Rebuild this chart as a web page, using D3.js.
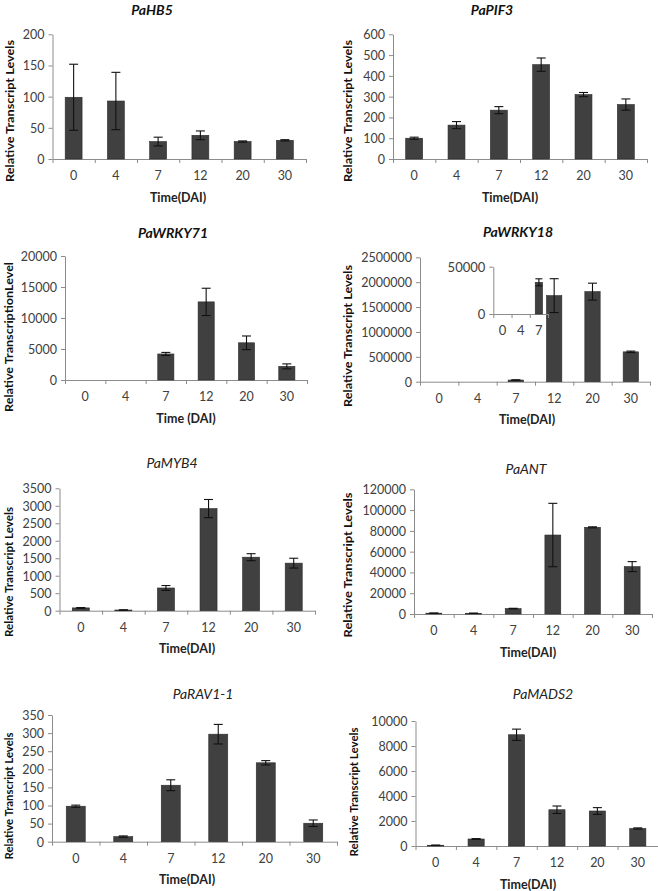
<!DOCTYPE html>
<html><head><meta charset="utf-8">
<script src="https://cdn.jsdelivr.net/npm/d3@7"></script>
<style>body{margin:0;background:#fff}svg{display:block}</style>
</head><body>
<svg id="c" width="658" height="891"></svg>
<script>
const categories = ["0","4","7","12","20","30"];

const hb5Values = [99, 93, 28, 38, 28, 30];
const hb5Errors = [53, 46, 7, 7, 1, 1];
const hb5Ticks = [0, 50, 100, 150, 200];

const pif3Values = [100, 163, 235, 454, 310, 262];
const pif3Errors = [5, 17, 17, 32, 10, 27];
const pif3Ticks = [0, 100, 200, 300, 400, 500, 600];

const wrky71Values = [0, 0, 4200, 12600, 6000, 2200];
const wrky71Errors = [0, 0, 250, 2200, 1100, 400];
const wrky71Ticks = [0, 5000, 10000, 15000, 20000];

const wrky18Values = [0, 0, 33500, 1730000, 1810000, 600000];
const wrky18Errors = [0, 0, 3700, 340000, 170000, 15000];
const wrky18Ticks = [0, 500000, 1000000, 1500000, 2000000, 2500000];
const wrky18InsetCategories = ["0","4","7"];
const wrky18InsetTicks = [0, 50000];

const myb4Values = [80, 20, 650, 2920, 1530, 1360];
const myb4Errors = [10, 5, 70, 260, 100, 140];
const myb4Ticks = [0, 500, 1000, 1500, 2000, 2500, 3000, 3500];

const antValues = [800, 700, 5200, 76000, 83400, 45600];
const antErrors = [100, 100, 300, 30500, 500, 4800];
const antTicks = [0, 20000, 40000, 60000, 80000, 100000, 120000];

const rav11Values = [98, 14, 156, 297, 218, 51];
const rav11Errors = [3, 2, 15, 27, 6, 9];
const rav11Ticks = [0, 50, 100, 150, 200, 250, 300, 350];

const mads2Values = [60, 560, 8900, 2900, 2800, 1400];
const mads2Errors = [10, 30, 450, 300, 270, 50];
const mads2Ticks = [0, 2000, 4000, 6000, 8000, 10000];

const titles = ["PaHB5","PaPIF3","PaWRKY71","PaWRKY18","PaMYB4","PaANT","PaRAV1-1","PaMADS2"];
const yTitles = ["Relative Transcript Levels","Relative Transcript Levels","Relative TranscriptionLevel",
  "Relative Transcript Levels","Relative Transcript Levels","Relative Transcript Levels",
  "Relative Transcript Levels","Relative Transcript Levels"];
const xTitles = ["Time(DAI)","Time(DAI)","Time (DAI)","Time(DAI)","Time(DAI)","Time(DAI)","Time(DAI)","Time(DAI)"];

const seriesValues = [hb5Values,pif3Values,wrky71Values,wrky18Values,myb4Values,antValues,rav11Values,mads2Values];
const seriesErrors = [hb5Errors,pif3Errors,wrky71Errors,wrky18Errors,myb4Errors,antErrors,rav11Errors,mads2Errors];
const seriesTicks = [hb5Ticks,pif3Ticks,wrky71Ticks,wrky18Ticks,myb4Ticks,antTicks,rav11Ticks,mads2Ticks];

// layout (positions only)
const layout = [
  {x0:52.5,x1:306,yTop:34.3,yBot:159,tx:152,ty:9,bold:true,ytx:9,yty:111,ytLen:142,xtx:178},
  {x0:393,x1:647,yTop:34.3,yBot:159,tx:492,ty:9,bold:true,ytx:347,yty:111,ytLen:142,xtx:510},
  {x0:65,x1:307,yTop:256,yBot:380,tx:173,ty:232,bold:true,ytx:8,yty:337,ytLen:150,xtx:186},
  {x0:420,x1:650,yTop:257.3,yBot:381.7,tx:518,ty:231,bold:true,ytx:347,yty:336,ytLen:142,xtx:527},
  {x0:59.5,x1:315,yTop:488.3,yBot:610.7,tx:172,ty:462,bold:false,ytx:8,yty:572,ytLen:130,xtx:187},
  {x0:414,x1:652,yTop:489.3,yBot:614,tx:526,ty:468,bold:false,ytx:347,yty:565,ytLen:145,xtx:528},
  {x0:52,x1:337,yTop:715,yBot:841.7,tx:203,ty:693,bold:false,ytx:8,yty:796,ytLen:127,xtx:187},
  {x0:415.5,x1:658,yTop:721,yBot:846,tx:543,ty:693,bold:false,ytx:353,yty:792,ytLen:129,xtx:528}
];
const insetLayout = {x0:493.3,x1:548,yTop:266.7,yBot:314};

const FONT = "Lato, 'Open Sans', sans-serif";
const AXIS = "#8c8c8c", BAR = "#404040", TXT = "#404040";
const svg = d3.select("#c");

function drawChart(g, cats, values, errors, ticks, L, opts) {
  const x = d3.scaleBand().domain(cats).range([L.x0, L.x1]).paddingInner(0.6).paddingOuter(0.3);
  const xb = d3.scaleLinear().domain([0, cats.length]).range([L.x0, L.x1]);
  const y = d3.scaleLinear().domain([0, ticks[ticks.length-1]]).range([L.yBot, L.yTop]);

  // y axis
  const ya = g.append("g").attr("transform", `translate(${L.x0},0)`)
    .call(d3.axisLeft(y).tickValues(ticks).tickSize(4).tickSizeOuter(0).tickPadding(4).tickFormat(d3.format("d")));
  ya.select(".domain").attr("stroke", AXIS);
  ya.selectAll(".tick line").attr("stroke", AXIS);
  ya.selectAll(".tick text").attr("fill", TXT).attr("font-family", FONT).attr("font-size", opts.fs).attr("dy", "0.35em");

  // x axis with boundary ticks
  const xa = g.append("g").attr("transform", `translate(0,${L.yBot})`)
    .call(d3.axisBottom(xb).tickValues(d3.range(cats.length+1)).tickSize(4).tickSizeOuter(0).tickFormat(""));
  xa.select(".domain").attr("stroke", AXIS);
  xa.selectAll(".tick line").attr("stroke", AXIS);
  const xl = g.append("g").attr("transform", `translate(0,${L.yBot})`)
    .call(d3.axisBottom(x).tickSize(0).tickPadding(opts.lp));
  xl.select(".domain").remove();
  xl.selectAll(".tick text").attr("fill", TXT).attr("font-family", FONT).attr("font-size", opts.fs);

  // bars
  const data = cats.map((c,i) => ({c, v: values[i], e: errors[i]}));
  g.selectAll("rect.bar").data(data.filter(d => d.v > 0)).join("rect").attr("class","bar")
    .attr("x", d => x(d.c)).attr("width", x.bandwidth())
    .attr("y", d => y(d.v)).attr("height", d => Math.max(0.8, y(0) - y(d.v)))
    .attr("fill", BAR).attr("stroke", "#2a2a2a").attr("stroke-width", 0.6);

  // error bars
  const cap = opts.cap;
  const eb = g.selectAll("g.err").data(data.filter(d => d.e > 0)).join("g").attr("class","err")
    .attr("stroke", "#111").attr("stroke-width", 1.1);
  eb.append("line").attr("x1", d => x(d.c)+x.bandwidth()/2).attr("x2", d => x(d.c)+x.bandwidth()/2)
    .attr("y1", d => y(d.v+d.e)).attr("y2", d => y(Math.max(0,d.v-d.e)));
  eb.append("line").attr("x1", d => x(d.c)+x.bandwidth()/2-cap/2).attr("x2", d => x(d.c)+x.bandwidth()/2+cap/2)
    .attr("y1", d => y(d.v+d.e)).attr("y2", d => y(d.v+d.e));
  eb.append("line").attr("x1", d => x(d.c)+x.bandwidth()/2-cap/2).attr("x2", d => x(d.c)+x.bandwidth()/2+cap/2)
    .attr("y1", d => y(Math.max(0,d.v-d.e))).attr("y2", d => y(Math.max(0,d.v-d.e)));
}

layout.forEach((L, i) => {
  const g = svg.append("g");
  drawChart(g, categories, seriesValues[i], seriesErrors[i], seriesTicks[i], L, {fs: 12.5, lp: 12, cap: 9});
  g.append("text").attr("x", L.tx).attr("y", L.ty).attr("text-anchor","middle").attr("dominant-baseline","central")
    .attr("font-family", FONT).attr("font-style","italic").attr("font-weight", L.bold ? "bold" : "normal")
    .attr("font-size", 14).attr("fill", L.bold ? "#111" : "#222").text(titles[i]);
  g.append("text").attr("transform", `translate(${L.ytx},${L.yty}) rotate(-90)`)
    .attr("text-anchor","middle").attr("dominant-baseline","central")
    .attr("font-family", FONT).attr("font-weight","bold").attr("font-size", 11.5).attr("fill","#111")
    .attr("textLength", L.ytLen).attr("lengthAdjust","spacingAndGlyphs").text(yTitles[i]);
  g.append("text").attr("x", L.xtx).attr("y", L.yBot + 38).attr("text-anchor","middle").attr("dominant-baseline","central")
    .attr("font-family", FONT).attr("font-weight","bold").attr("font-size", 12.5).attr("fill","#222").text(xTitles[i]);
});

// inset for PaWRKY18
const gi = svg.append("g");
drawChart(gi, wrky18InsetCategories, wrky18Values.slice(0,3), wrky18Errors.slice(0,3), wrky18InsetTicks, insetLayout, {fs: 13, lp: 12, cap: 7});
</script>
</body></html>
